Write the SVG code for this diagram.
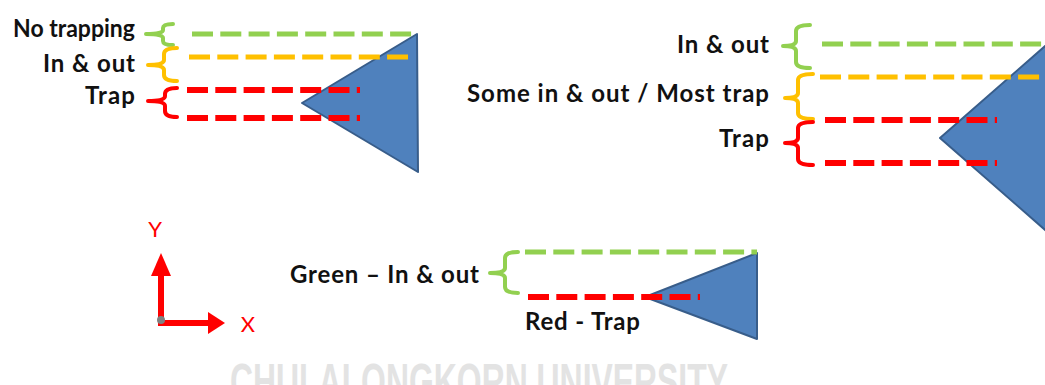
<svg xmlns="http://www.w3.org/2000/svg" width="1045" height="385" viewBox="0 0 1045 385">
<style>
.lbl{font-family:Lato,"Liberation Sans",sans-serif;font-weight:bold;font-size:24px;fill:#111;text-anchor:end}
.ax{font-family:Lato,"Liberation Sans",sans-serif;font-size:22px;fill:#ff0000;text-anchor:middle}
.br{fill:none;stroke-width:4;stroke-linejoin:round;stroke-linecap:round}
.g{stroke:#92d050}.o{stroke:#ffc000}.r{stroke:#ff0000}
.dl{fill:none;stroke-width:5;stroke-dasharray:21 7.3}
.dr{fill:none;stroke-width:6;stroke-dasharray:21 7.3}
.tri{fill:#4f81bd;stroke:#385d8a;stroke-width:2;stroke-linejoin:round}
.wm{font-family:"Liberation Sans",sans-serif;font-weight:bold;font-size:50px;fill:#e3e3e3}
</style>
<g id="watermark">
<text class="wm" x="230" y="399" textLength="498" lengthAdjust="spacingAndGlyphs">CHULALONGKORN UNIVERSITY</text>
</g>
<g id="triangles">
<polygon id="tri-left" class="tri" points="417,34 302,103 418,172"/>
<polygon id="tri-right" class="tri" points="1052,40 940,138 1052,236"/>
<polygon id="tri-bottom" class="tri" points="757,253 645,297 757,339"/>
</g>
<g id="connectors">
<line class="dl g" x1="192" y1="34" x2="413" y2="34"/>
<line class="dl o" x1="189" y1="57" x2="408" y2="57"/>
<line class="dr r" x1="187" y1="90" x2="360" y2="90"/>
<line class="dr r" x1="187" y1="118" x2="360" y2="118"/>
<line class="dl g" x1="822" y1="44" x2="1045" y2="44"/>
<line class="dl o" x1="820" y1="77" x2="1045" y2="77"/>
<line class="dr r" x1="825" y1="120" x2="997" y2="120"/>
<line class="dr r" x1="825" y1="163" x2="997" y2="163"/>
<line class="dl g" x1="525" y1="252" x2="757" y2="252"/>
<line class="dr r" x1="528" y1="297" x2="700" y2="297"/>
</g>
<g id="braces">
<path class="br g" d="M173,24 Q163,24 163,28 L163,30 Q163,34 146,34 Q163,34 163,38 L163,41 Q163,45 173,45"/>
<path class="br o" d="M177,48 Q164,48 164,54 L164,60 Q164,65 148,65 Q164,65 164,70 L164,75 Q164,81 177,81"/>
<path class="br r" d="M177,88 Q165,88 165,94 L165,96 Q165,101 148,101 Q165,101 165,106 L165,111 Q165,117 177,117"/>
<path class="br g" d="M810,25 Q796,25 796,31 L796,41 Q796,46 783,46 Q796,46 796,51 L796,62 Q796,68 810,68"/>
<path class="br o" d="M813,74 Q798,74 798,80 L798,93 Q798,98 785,98 Q798,98 798,103 L798,113 Q798,119 813,119"/>
<path class="br r" d="M813,122 Q798,122 798,128 L798,138 Q798,143 785,143 Q798,143 798,148 L798,159 Q798,165 813,165"/>
<path class="br g" d="M518,252 Q505,252 505,258 L505,268 Q505,273 490,273 Q505,273 505,278 L505,287 Q505,293 518,293"/>
</g>
<g id="labels">
<text id="lbl-no-trapping" class="lbl" x="135" y="37" textLength="122" lengthAdjust="spacingAndGlyphs">No trapping</text>
<text id="lbl-inout-left" class="lbl" x="135" y="72" textLength="92" lengthAdjust="spacing">In &amp; out</text>
<text id="lbl-trap-left" class="lbl" x="135" y="104" textLength="50" lengthAdjust="spacing">Trap</text>
<text id="lbl-inout-right" class="lbl" x="769" y="53" textLength="92" lengthAdjust="spacing">In &amp; out</text>
<text id="lbl-some" class="lbl" x="769" y="102" textLength="302" lengthAdjust="spacing">Some in &amp; out / Most trap</text>
<text id="lbl-trap-right" class="lbl" x="769" y="147" textLength="50" lengthAdjust="spacing">Trap</text>
<text id="lbl-green" class="lbl" x="479" y="283" textLength="189" lengthAdjust="spacing">Green – In &amp; out</text>
<text id="lbl-red" class="lbl" x="640" y="330" textLength="115" lengthAdjust="spacing">Red - Trap</text>
</g>
<g id="axes">
<rect x="158" y="274" width="6" height="52" fill="#ff0000"/>
<polygon points="151,276 161,253 171,276" fill="#ff0000"/>
<rect x="158" y="320" width="51" height="6" fill="#ff0000"/>
<polygon points="208,312 225,323 208,334" fill="#ff0000"/>
<circle cx="161" cy="320" r="4" fill="#808080"/>
<text class="ax" x="155" y="237">Y</text>
<text class="ax" x="248" y="332">X</text>
</g>
</svg>
